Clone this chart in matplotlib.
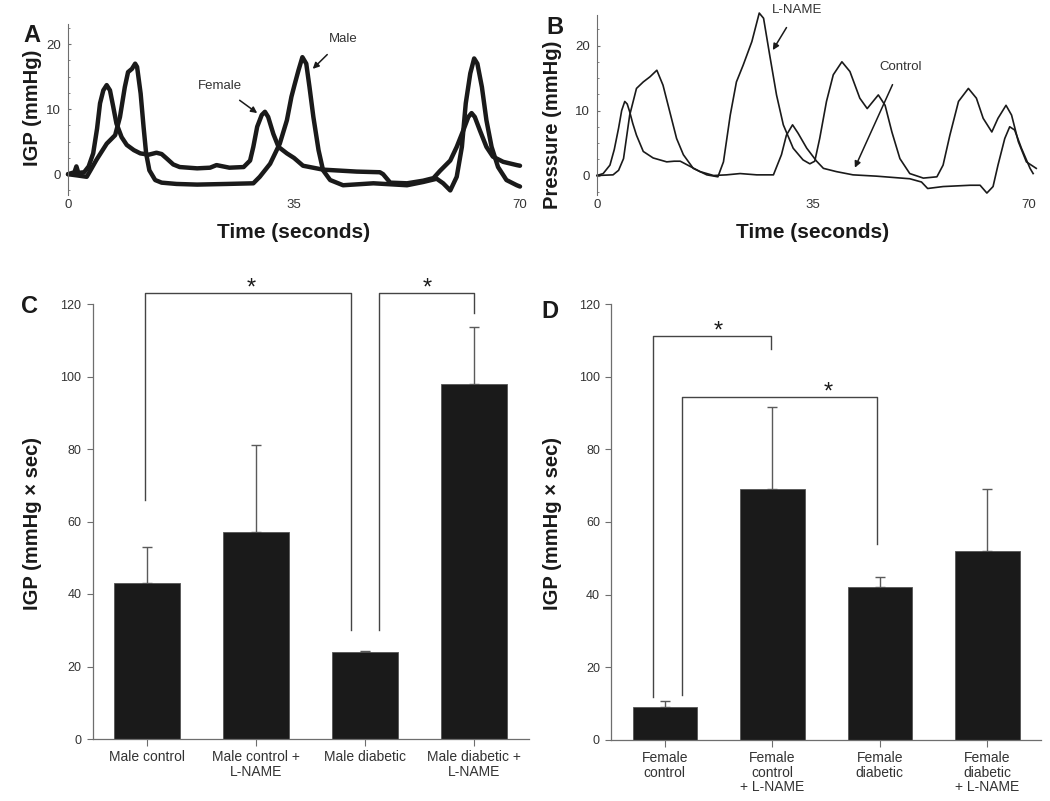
import matplotlib
matplotlib.use("Agg")
import matplotlib.pyplot as plt
from matplotlib.ticker import MultipleLocator

plt.rcParams['font.family'] = ['Liberation Sans', 'DejaVu Sans']

# ---------------- data: panel A (IGP traces), (time s, mmHg) ----------------
female_pts = [(0, 0.0), (1.0, 0.3), (1.3, 1.2), (1.6, 0.2), (2.5, 0.3), (3.2, 1.2), (3.9, 3.2),
              (4.5, 7.0), (4.96, 10.9), (5.47, 12.9), (5.99, 13.7), (6.5, 12.9), (7.0, 10.4),
              (7.5, 7.8), (8.3, 5.7), (9.1, 4.5), (10.2, 3.7), (11.2, 3.2), (12.5, 3.0),
              (13.7, 3.3), (14.5, 3.1), (15.3, 2.4), (16.3, 1.5), (17.3, 1.1), (20.0, 0.9),
              (22.0, 1.0), (23.0, 1.4), (25.0, 1.0), (27.2, 1.1), (28.2, 2.1), (28.7, 4.2),
              (29.3, 7.3), (30.0, 9.1), (30.5, 9.6), (31.0, 8.8), (31.8, 6.2), (32.6, 4.2),
              (33.9, 3.2), (35.0, 2.5), (36.4, 1.3), (39.5, 0.7), (44.7, 0.4), (48.3, 0.3),
              (48.8, 0.0), (49.9, -1.3), (52.5, -1.4), (55.0, -1.0), (56.6, -0.6), (57.6, 0.5),
              (59.2, 2.1), (60.2, 4.2), (61.2, 6.7), (62.0, 8.8), (62.5, 9.4), (63.0, 8.8),
              (63.8, 6.7), (64.8, 4.2), (65.8, 2.7), (67.4, 1.9), (69.5, 1.4), (70.0, 1.3)]

male_pts = [(0, 0.0), (1.5, -0.2), (2.9, -0.4), (3.6, 0.8), (4.4, 2.2), (6.0, 4.7), (7.3, 6.0),
            (8.05, 8.8), (8.8, 13.4), (9.3, 15.7), (9.9, 16.2), (10.4, 17.0), (10.7, 16.5),
            (11.25, 12.4), (11.7, 7.3), (12.1, 3.2), (12.6, 0.6), (13.5, -0.9), (14.5, -1.3),
            (16.8, -1.5), (20.0, -1.6), (24.6, -1.5), (28.7, -1.4), (29.7, -0.4), (31.3, 1.6),
            (32.8, 4.7), (33.9, 8.3), (34.6, 11.9), (35.1, 13.8), (35.7, 16.0), (36.3, 18.0),
            (36.9, 17.0), (37.4, 13.4), (38.0, 8.8), (38.8, 3.7), (39.5, 0.6), (40.6, -0.9),
            (42.6, -1.7), (47.3, -1.4), (52.5, -1.7), (55.0, -1.2), (57.1, -0.7), (58.1, -1.4),
            (59.2, -2.5), (60.2, -0.4), (61.0, 4.2), (61.6, 10.9), (62.3, 15.5), (62.9, 17.8),
            (63.4, 17.0), (64.1, 13.4), (64.8, 8.3), (65.6, 4.2), (66.6, 1.1), (67.9, -0.9),
            (69.5, -1.7), (70.0, -1.9)]

# ---------------- data: panel B (pressure traces), (time s, mmHg) ----------------
control_pts = [(0, 0.0), (1.0, 0.3), (2.1, 1.6), (2.8, 4.0), (3.5, 7.3), (4.0, 10.0),
               (4.5, 11.4), (4.9, 11.0), (5.3, 9.8), (5.8, 8.0), (6.4, 6.2), (7.5, 3.7),
               (9.1, 2.7), (11.3, 2.1), (12.5, 2.2), (13.5, 2.2), (15.1, 1.4), (16.7, 0.6),
               (18.9, 0.0), (21.0, 0.1), (23.2, 0.3), (25.9, 0.1), (28.6, 0.1), (29.9, 3.2),
               (30.7, 6.2), (31.7, 7.8), (32.6, 6.5), (34.0, 4.2), (35.6, 2.2), (36.7, 1.1),
               (38.8, 0.6), (41.5, 0.1), (45.3, -0.1), (50.7, -0.5), (52.6, -1.0), (53.6, -2.0),
               (56.1, -1.7), (60.5, -1.5), (62.1, -1.5), (63.2, -2.7), (64.2, -1.7), (65.0, 1.6),
               (66.1, 5.7), (66.9, 7.5), (67.7, 7.0), (68.8, 4.2), (70.2, 1.1), (70.7, 0.3)]

lname_pts = [(0, 0.0), (2.6, 0.1), (3.5, 0.8), (4.3, 2.6), (5.3, 9.3), (6.4, 13.4), (7.5, 14.4),
             (8.6, 15.2), (9.7, 16.2), (10.7, 13.9), (11.8, 9.8), (12.9, 5.7), (14.0, 3.2),
             (15.6, 1.1), (17.8, 0.1), (19.6, -0.2), (20.5, 2.1), (21.6, 9.3), (22.6, 14.4),
             (23.7, 17.0), (25.1, 20.6), (26.3, 25.0), (27.0, 24.2), (28.0, 18.5), (29.1, 12.4),
             (30.2, 7.8), (31.8, 4.2), (33.4, 2.4), (34.5, 1.8), (35.3, 2.2), (36.1, 5.7),
             (37.2, 11.4), (38.3, 15.5), (39.7, 17.5), (41.0, 16.0), (42.6, 11.9), (43.8, 10.3),
             (45.6, 12.4), (46.7, 10.8), (47.8, 6.7), (49.1, 2.6), (50.7, 0.3), (52.9, -0.4),
             (55.1, -0.2), (56.1, 1.6), (57.2, 6.2), (58.6, 11.4), (60.2, 13.4), (61.5, 11.9),
             (62.6, 8.8), (64.0, 6.7), (65.0, 8.8), (66.3, 10.8), (67.2, 9.3), (68.3, 5.2),
             (69.6, 2.1), (71.2, 1.1)]

# ---------------- data: panel C (male bars) ----------------
male_groups = ["Male control", "Male control +\nL-NAME", "Male diabetic",
               "Male diabetic +\nL-NAME"]
male_means = [43, 57, 24, 98]
male_err = [10, 24, 0.4, 15.7]

# ---------------- data: panel D (female bars) ----------------
female_groups = ["Female\ncontrol", "Female\ncontrol\n+ L-NAME", "Female\ndiabetic",
                 "Female\ndiabetic\n+ L-NAME"]
female_means = [9, 69, 42, 52]
female_err = [1.7, 22.6, 2.8, 17]

# ---------------- layout / style ----------------
W, H = 1050, 801
fig = plt.figure(figsize=(W / 100, H / 100), dpi=100)
ink = '#1a1a1a'
spine_c = '#6e6e6e'
tick_c = '#333333'


def frac(x0, y_top, x1, y_bot):
    return [x0 / W, (H - y_bot) / H, (x1 - x0) / W, (y_bot - y_top) / H]


def unzip(pts):
    return [p[0] for p in pts], [p[1] for p in pts]


def trace_axes(ax, ylim, xlim):
    ax.set_xlim(*xlim)
    ax.set_ylim(*ylim)
    for s in ['top', 'right', 'bottom']:
        ax.spines[s].set_visible(False)
    ax.spines['left'].set_color(spine_c)
    ax.spines['left'].set_linewidth(0.8)
    ax.set_yticks([0, 10, 20])
    ax.yaxis.set_minor_locator(MultipleLocator(2.5))
    ax.tick_params(axis='y', which='major', direction='in', length=2, color=spine_c,
                   labelsize=9.5, labelcolor=tick_c, pad=5)
    ax.tick_params(axis='y', which='minor', direction='in', length=1.5, color=spine_c)
    ax.set_xticks([0, 35, 70])
    ax.tick_params(axis='x', length=0, labelsize=9.5, labelcolor=tick_c, pad=3)
    ax.patch.set_alpha(0)


arrow_kw = dict(arrowstyle='-|>', color=ink, lw=1.1, mutation_scale=9, shrinkA=7, shrinkB=0)

# Panel A
axA = fig.add_axes(frac(68, 24, 520, 195))
trace_axes(axA, (-3.2, 23.1), (0, 70))
for pts in (female_pts, male_pts):
    t, v = unzip(pts)
    axA.plot(t, v, color=ink, lw=3.2, solid_joinstyle='round', solid_capstyle='round',
             clip_on=False)
axA.annotate('Female', xy=(29.3, 9.4), xytext=(23.5, 13.6), fontsize=9.5, color=tick_c,
             ha='center', va='center', arrowprops=arrow_kw)
axA.annotate('Male', xy=(37.9, 16.2), xytext=(42.6, 20.8), fontsize=9.5, color=tick_c,
             ha='center', va='center', arrowprops=arrow_kw)

# Panel B
axB = fig.add_axes(frac(597, 15, 1035, 195))
trace_axes(axB, (-3.0, 24.7), (0, 71))
for pts in (control_pts, lname_pts):
    t, v = unzip(pts)
    axB.plot(t, v, color=ink, lw=1.2, solid_joinstyle='round', clip_on=False)
axB.annotate('L-NAME', xy=(28.5, 19.3), xytext=(32.4, 25.4), fontsize=9.5, color=tick_c,
             ha='center', va='center', annotation_clip=False, arrowprops=arrow_kw)
axB.annotate('Control', xy=(41.8, 1.2), xytext=(49.2, 16.7), fontsize=9.5, color=tick_c,
             ha='center', va='center', arrowprops=arrow_kw)


def bar_axes(ax, groups, means, errs):
    x = list(range(len(groups)))
    ax.bar(x, means, width=0.6, color=ink, edgecolor='#555555', linewidth=0.6, zorder=2)
    ax.errorbar(x, means, yerr=[[0] * len(errs), errs], fmt='none', ecolor='#5a5a5a',
                elinewidth=1.0, capsize=3.5, capthick=1.0, zorder=1)
    ax.set_xlim(-0.5, 3.5)
    ax.set_ylim(0, 120)
    for s in ['top', 'right']:
        ax.spines[s].set_visible(False)
    for s in ['left', 'bottom']:
        ax.spines[s].set_color(spine_c)
        ax.spines[s].set_linewidth(0.9)
    ax.set_yticks(range(0, 121, 20))
    ax.set_xticks(x)
    ax.set_xticklabels(groups, linespacing=1.05)
    ax.tick_params(axis='y', direction='out', length=4, color=spine_c, labelsize=9,
                   labelcolor=tick_c, pad=4)
    ax.tick_params(axis='x', direction='out', length=5, color=spine_c, labelsize=10,
                   labelcolor=tick_c, pad=3)
    ax.patch.set_alpha(0)


def bracket(ax, x1, x2, ytop, yl, yr, star_x, star_y):
    ax.plot([x1, x1, x2, x2], [yl, ytop, ytop, yr], color='#444444', lw=1.0,
            clip_on=False, zorder=3)
    ax.text(star_x, star_y, '*', fontsize=17, ha='center', va='baseline',
            color=ink, clip_on=False)


# Panel C
axC = fig.add_axes(frac(92.5, 304, 528.5, 739))
bar_axes(axC, male_groups, male_means, male_err)
bracket(axC, -0.02, 1.87, 123, 66, 30, 0.96, 122.7)
bracket(axC, 2.13, 3.0, 123, 30, 117.5, 2.57, 122.7)

# Panel D
axD = fig.add_axes(frac(611, 304, 1041, 740))
bar_axes(axD, female_groups, female_means, female_err)
bracket(axD, -0.11, 0.99, 111.2, 11.8, 107.7, 0.50, 110.8)
bracket(axD, 0.16, 1.97, 94.4, 12.4, 54, 1.52, 93.9)


# axis labels and panel letters
def ftext(x, y, s, **kw):
    fig.text(x / W, 1 - y / H, s, **kw)


ftext(32, 108, 'IGP (mmHg)', rotation=90, ha='center', va='center', fontsize=14.5,
      fontweight='bold', color=ink)
ftext(294, 232, 'Time (seconds)', ha='center', va='center', fontsize=15,
      fontweight='bold', color=ink)
ftext(553, 125, 'Pressure (mmHg)', rotation=90, ha='center', va='center', fontsize=14.5,
      fontweight='bold', color=ink)
ftext(813, 232, 'Time (seconds)', ha='center', va='center', fontsize=15,
      fontweight='bold', color=ink)
ftext(33, 524, 'IGP (mmHg × sec)', rotation=90, ha='center', va='center', fontsize=14.5,
      fontweight='bold', color=ink)
ftext(553, 524, 'IGP (mmHg × sec)', rotation=90, ha='center', va='center', fontsize=14.5,
      fontweight='bold', color=ink)

for letter, (px, py) in {'A': (32, 35), 'B': (555, 27), 'C': (30, 306), 'D': (550, 311)}.items():
    ftext(px, py, letter, ha='center', va='center', fontsize=17, fontweight='bold', color=ink)

fig.savefig('out.png', dpi=100)
